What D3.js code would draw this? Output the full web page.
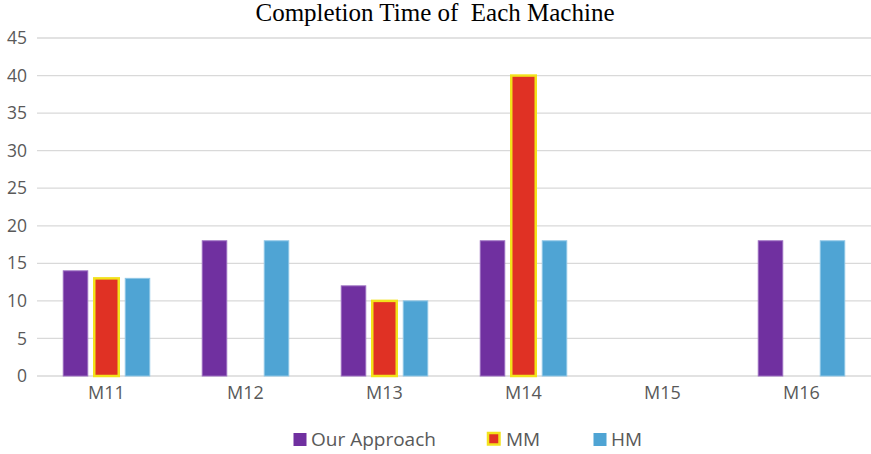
<!DOCTYPE html>
<html>
<head>
<meta charset="utf-8">
<script src="https://cdn.jsdelivr.net/npm/d3@7/dist/d3.min.js"></script>
<style>
  html, body { margin: 0; padding: 0; background: #fff; }
  svg { display: block; }
</style>
</head>
<body>
<svg id="chart" width="871" height="454"></svg>
<script>
// Completion time per machine for three scheduling approaches
const machines = ["M11", "M12", "M13", "M14", "M15", "M16"];
const ourApproach = [14, 18, 12, 18, 0, 18];
const mm = [13, 0, 10, 40, 0, 0];
const hm = [13, 18, 10, 18, 0, 18];
const yTicks = [0, 5, 10, 15, 20, 25, 30, 35, 40, 45];

const series = [
  { name: "Our Approach", values: ourApproach, fill: "#7030A0", stroke: "#9a6cc0", sw: 1 },
  { name: "MM", values: mm, fill: "#E03124", stroke: "#F2E21C", sw: 2.5 },
  { name: "HM", values: hm, fill: "#4FA4D4", stroke: "#8ec6e6", sw: 1 }
];

const svg = d3.select("#chart");
const margin = { left: 37, right: 0 };
const W = 871;
const font = "'Open Sans', sans-serif";

const x = d3.scaleBand().domain(machines).range([margin.left, W - margin.right]).padding(0);
const y = d3.scaleLinear().domain([0, 45]).range([376, 38]);

// Gridlines
svg.append("g")
  .selectAll("line")
  .data(yTicks)
  .join("line")
  .attr("x1", margin.left).attr("x2", W)
  .attr("y1", d => y(d)).attr("y2", d => y(d))
  .attr("stroke", "#d9d9d9").attr("stroke-width", 1.3);

// Y axis labels
const yAxis = d3.axisLeft(y).tickValues(yTicks).tickSize(0).tickPadding(10);
const gy = svg.append("g").attr("transform", `translate(${margin.left},0)`).call(yAxis);
gy.select(".domain").remove();
gy.selectAll("text")
  .attr("font-family", font).attr("font-size", 17.5).attr("fill", "#595959");

// X axis labels
const xAxis = d3.axisBottom(x).tickSize(0).tickPadding(10);
const gx = svg.append("g").attr("transform", `translate(0,${y(0)})`).call(xAxis);
gx.select(".domain").remove();
gx.selectAll("text")
  .attr("font-family", font).attr("font-size", 18).attr("fill", "#595959");

// Bars
const barW = 24.5, step = 31;
series.forEach((s, i) => {
  svg.append("g")
    .selectAll("rect")
    .data(machines.map((m, j) => ({ m, v: s.values[j] })).filter(d => d.v > 0))
    .join("rect")
    .attr("x", d => x(d.m) + x.bandwidth() / 2 + (i - 1) * step - barW / 2)
    .attr("y", d => y(d.v))
    .attr("width", barW)
    .attr("height", d => y(0) - y(d.v))
    .attr("fill", s.fill)
    .attr("stroke", s.stroke)
    .attr("stroke-width", s.sw);
});

// Title
svg.append("text")
  .attr("x", 435).attr("y", 21)
  .attr("text-anchor", "middle")
  .attr("font-family", "'Liberation Serif', 'Times New Roman', serif")
  .attr("font-size", 25).attr("fill", "#000")
  .attr("xml:space", "preserve")
  .text("Completion Time of  Each Machine");

// Legend
const legendX = [293.5, 488, 593.5];
const legend = svg.append("g");
series.forEach((s, i) => {
  const g = legend.append("g").attr("transform", `translate(${legendX[i]},433)`);
  g.append("rect")
    .attr("x", 0).attr("y", 0).attr("width", i === 1 ? 11.5 : 13).attr("height", i === 1 ? 11.5 : 13)
    .attr("fill", s.fill)
    .attr("stroke", i === 1 ? s.stroke : "none")
    .attr("stroke-width", 2.5);
  g.append("text")
    .attr("x", i === 1 ? 18 : 17.5).attr("y", 13)
    .attr("font-family", font).attr("font-size", 19).attr("fill", "#595959")
    .text(s.name);
});
</script>
</body>
</html>
